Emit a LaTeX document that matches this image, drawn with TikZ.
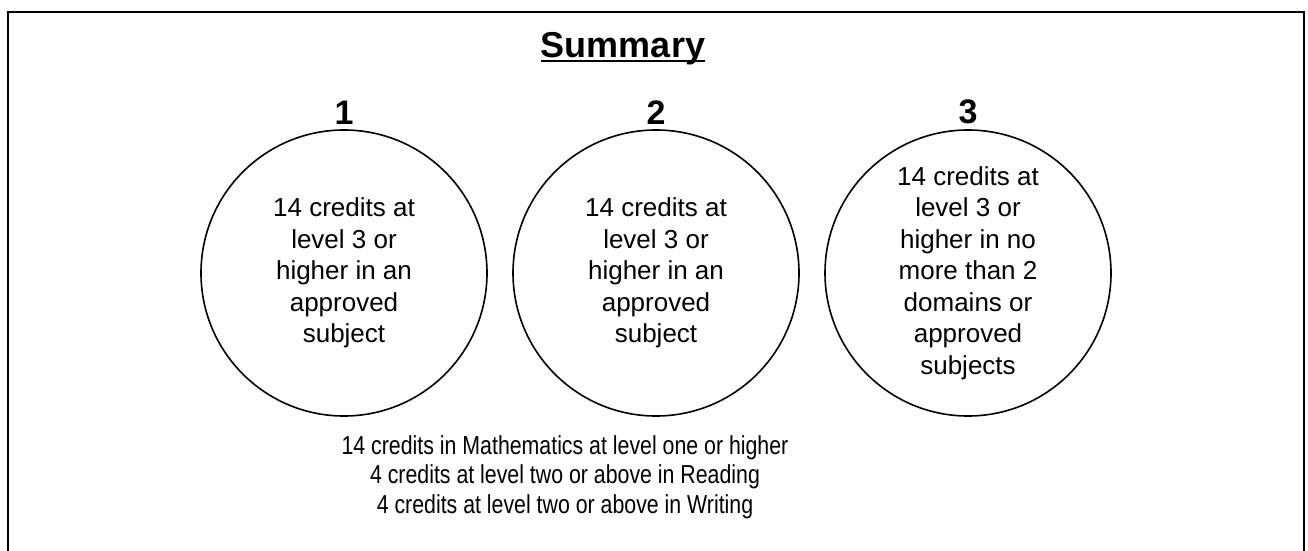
\documentclass[tikz,border=0pt]{standalone}
\usepackage{fontspec}
\setmainfont{Liberation Sans}
\newfontfamily\narrowfont[FakeStretch=0.82]{Liberation Sans}
\usetikzlibrary{positioning}

\tikzset{
    outline/.style = {
        line width=2pt,
        black
    },
    ring/.style = {
        draw,
        circle,
        line width=1.6pt,
        minimum size=286pt,
        inner sep=0pt,
        align=center,
        font=\fontsize{26}{31.5}\selectfont
    },
    number/.style = {
        inner sep=0pt,
        font=\bfseries\fontsize{34}{34}\selectfont
    },
    heading/.style = {
        inner sep=0pt,
        font=\bfseries\fontsize{36}{36}\selectfont
    },
    rules/.style = {
        inner sep=0pt,
        align=center,
        font=\narrowfont\fontsize{26}{29.5}\selectfont
    }
}

\begin{document}
\begin{tikzpicture}[x=1pt, y=-1pt]
    \useasboundingbox (0,0) rectangle (1308,551);

    % Draw frame
    \draw[outline] (8,560) -- (8,12) -- (1304,12) -- (1304,560);

    % Draw title
    \node[heading, anchor=base] (title) at (623,57) {Summary};
    \draw[line width=2pt] ([yshift=-4pt]title.base west) -- ([yshift=-4pt]title.base east);

    % Draw circles
    \node[ring] (c1) at (344,273) {14 credits at\\level 3 or\\higher in an\\approved\\subject};
    \node[ring] (c2) at (656,273) {14 credits at\\level 3 or\\higher in an\\approved\\subject};
    \node[ring] (c3) at (968,273) {14 credits at\\level 3 or\\higher in no\\more than 2\\domains or\\approved\\subjects};

    % Draw numbers
    \node[number, above=5pt of c1] (n1) {1};
    \node[number, above=5pt of c2] (n2) {2};
    \node[number, above=5pt of c3] (n3) {3};

    % Draw requirements
    \node[rules, anchor=north] (req) at (565,435) {14 credits in Mathematics at level one or higher\\4 credits at level two or above in Reading\\4 credits at level two or above in Writing};
\end{tikzpicture}
\end{document}
